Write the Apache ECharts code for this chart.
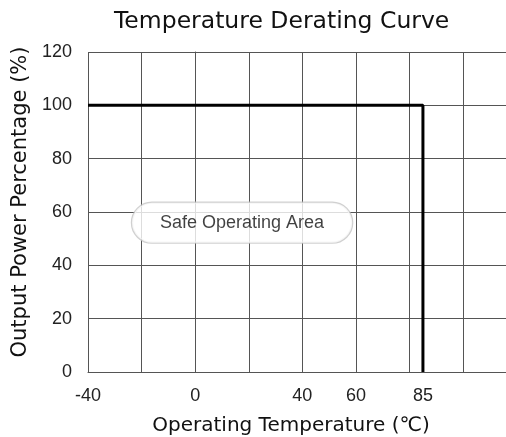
<!DOCTYPE html>
<html>
<head>
<meta charset="utf-8">
<script src="https://cdn.jsdelivr.net/npm/echarts@6/dist/echarts.min.js"></script>
<style>html,body{margin:0;padding:0;background:#fff;}#c{width:506px;height:437px;}</style>
</head>
<body>
<div id="c"></div>
<script>
// Data
const curveTemps = [-40, 85, 85];
const curvePower = [100, 100, 0];
const xTickLabels = [-40, 0, 40, 60, 85];
const yTickLabels = [0, 20, 40, 60, 80, 100, 120];
const annotationText = 'Safe Operating Area';
const annotationAt = [17.5, 56];

const chart = echarts.init(document.getElementById('c'), null, {renderer: 'canvas'});
const gridColor = '#555';
chart.setOption({
  animation: false,
  backgroundColor: '#fff',
  title: {
    text: 'Temperature Derating Curve',
    left: 109,
    top: 5,
    textStyle: {fontFamily: 'DejaVu Sans', fontWeight: 'normal', fontSize: 23.5, color: '#111'}
  },
  grid: {left: 88, right: 0, top: 52, bottom: 65, containLabel: false, outerBoundsMode: 'none'},
  xAxis: {
    type: 'value', min: -40, max: 116, interval: 20,
    name: 'Operating Temperature (℃)',
    nameLocation: 'middle', nameGap: 44,
    nameTextStyle: {fontFamily: 'DejaVu Sans', fontSize: 20, color: '#111', padding: [0, 12, 0, 0]},
    axisLine: {show: true, lineStyle: {color: gridColor, width: 1}},
    axisTick: {show: false},
    splitLine: {show: true, lineStyle: {color: gridColor, width: 1}},
    axisLabel: {customValues: xTickLabels, margin: 15, fontFamily: 'Liberation Sans', fontSize: 18, color: '#222'}
  },
  yAxis: {
    type: 'value', min: 0, max: 120, interval: 20,
    name: 'Output Power Percentage (%)',
    nameLocation: 'middle', nameGap: 54, nameRotate: 90,
    nameTextStyle: {fontFamily: 'DejaVu Sans', fontSize: 21, color: '#111', padding: [0, 0, 0, 20]},
    axisLine: {show: true, lineStyle: {color: gridColor, width: 1}},
    axisTick: {show: false},
    splitLine: {show: true, lineStyle: {color: gridColor, width: 1}},
    axisLabel: {customValues: yTickLabels, margin: 16, fontFamily: 'Liberation Sans', fontSize: 18, color: '#222'}
  },
  series: [
    {
      type: 'line',
      data: curveTemps.map((t, i) => [t, curvePower[i]]),
      symbol: 'none',
      lineStyle: {color: '#000', width: 3},
      z: 5
    },
    {
      type: 'scatter',
      data: [annotationAt],
      symbolSize: 0,
      silent: true,
      label: {
        show: true, position: 'inside',
        formatter: annotationText,
        fontFamily: 'Liberation Sans', fontSize: 18, color: '#111',
        backgroundColor: '#fff', borderColor: '#c4c4c4', borderWidth: 1.2,
        borderRadius: 21, padding: [11, 28, 11, 28]
      },
      z: 6
    }
  ]
});
</script>
</body>
</html>
